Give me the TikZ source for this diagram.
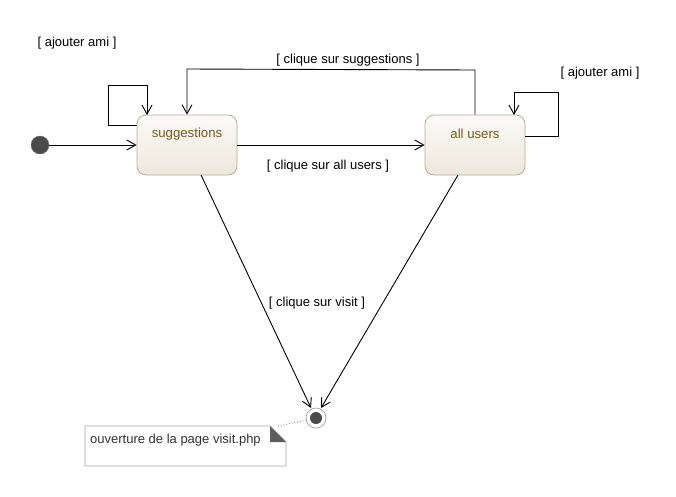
\documentclass[tikz,border=0pt]{standalone}
\usepackage{fontspec}
\setmainfont{Liberation Sans}
\usetikzlibrary{arrows.meta,shapes.geometric}
\definecolor{statebd}{HTML}{B8AD98}
\definecolor{statetop}{HTML}{FBFAF7}
\definecolor{statebot}{HTML}{EDE8DC}
\definecolor{statetxt}{HTML}{7A5A1E}
\definecolor{dotc}{HTML}{4A4A4A}
\definecolor{notebd}{HTML}{A8A8A8}
\tikzset{
  state/.style={draw=statebd, rounded corners=9pt, minimum width=100pt, minimum height=60pt,
     top color=statetop, bottom color=statebot, line width=0.8pt, inner sep=0pt},
  statelabel/.style={text=statetxt, font=\fontsize{13.2}{15}\selectfont, anchor=center},
  trans/.style={draw=black, line width=0.9pt, -{Straight Barb[length=9pt,width=10pt,line width=0.9pt]}},
  lbl/.style={font=\fontsize{13}{15}\selectfont, inner sep=0pt},
}
\begin{document}
\begin{tikzpicture}[x=1pt,y=-1pt]
\useasboundingbox (0,0) rectangle (676,496);
% states
\node[state] (sug) at (187,145) {};
\node[statelabel] (sugl) at (187,134) {suggestions};
\node[state] (all) at (475,145) {};
\node[statelabel] (alll) at (475,134) {all users};
% initial
\node[circle, fill=dotc, draw=dotc!80, minimum size=18pt, inner sep=0pt] (init) at (40,145) {};
% final
\node[circle, draw=notebd, line width=0.8pt, fill=white, minimum size=20pt, inner sep=0pt] (fin) at (316,418) {};
\node[circle, fill=dotc, minimum size=12pt, inner sep=0pt] (finin) at (316,418) {};
% coordinates
\coordinate (a1) at (108,125);
\coordinate (a2) at (108,85);
\coordinate (a3) at (147,85);
\coordinate (a4) at (147,115);
\coordinate (b1) at (475,70);
\coordinate (b2) at (187,69);
\coordinate (c1) at (558,136);
\coordinate (c2) at (558,92);
\coordinate (c3) at (514,92);
\coordinate (c4) at (514,115);
% transitions
\draw[trans] (init.east) -- (sug.west);
\draw[trans] (sug.east) -- (all.west);
\draw[trans] (137,125) -- (a1) -- (a2) -- (a3) -- (a4);
\draw[trans] (all.north) -- (b1) -- (b2) -- (sug.north);
\draw[trans] (525,136) -- (c1) -- (c2) -- (c3) -- (c4);
\draw[trans] (201,175) -- (311,408);
\draw[trans] (458,175) -- (321,408);
% labels
\node[lbl] (l1) at (77,43) {[ ajouter ami ]};
\node[lbl] (l2) at (348,60) {[ clique sur suggestions ]};
\node[lbl] (l3) at (600,73) {[ ajouter ami ]};
\node[lbl] (l4) at (328,166) {[ clique sur all users ]};
\node[lbl] (l5) at (317,303) {[ clique sur visit ]};
% note
\draw[notebd, line width=0.8pt, fill=white] (85,426) -- (270,426) -- (286,442) -- (286,466) -- (85,466) -- cycle;
\fill[dotc!90] (270,426) -- (286,442) -- (270,442) -- cycle;
\node[lbl, anchor=west, text=black!80] (note) at (90,440) {ouverture de la page visit.php};
\coordinate (np) at (278,426);
\draw[dotted, notebd!70!black, line width=0.8pt] (np) -- (fin);
\end{tikzpicture}
\end{document}
